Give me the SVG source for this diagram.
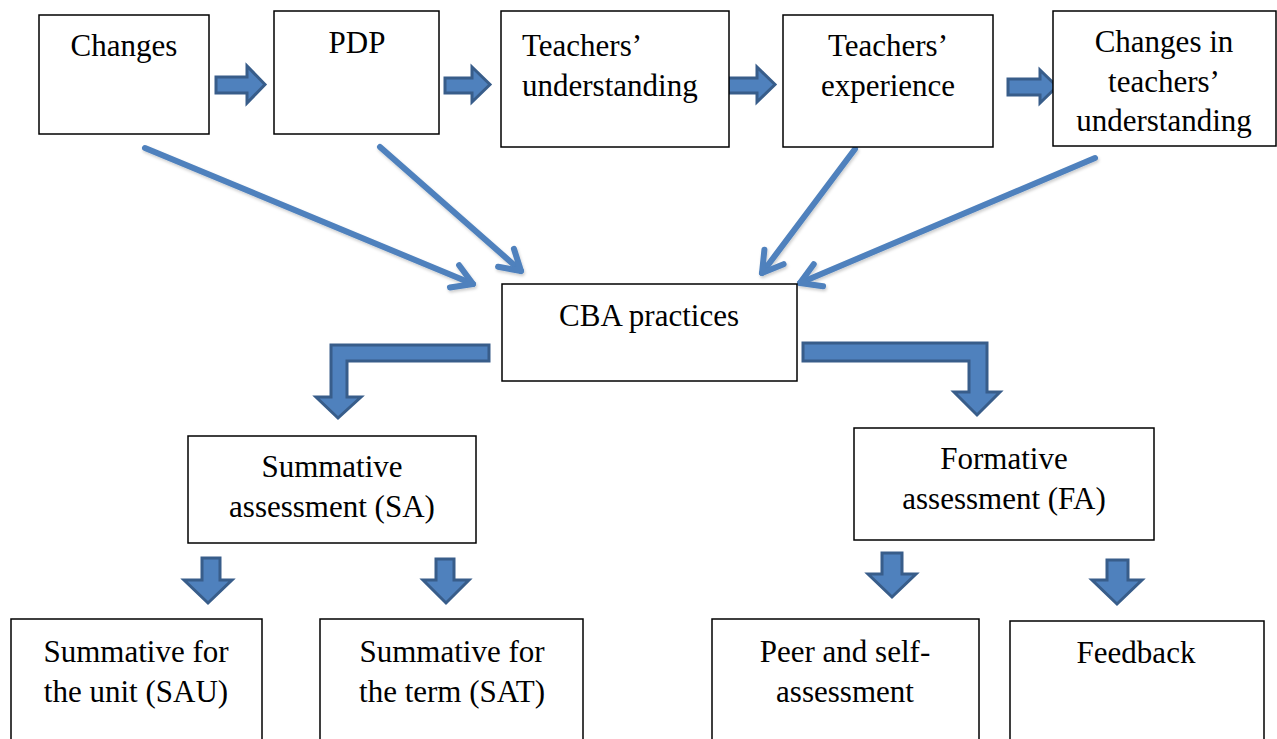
<svg xmlns="http://www.w3.org/2000/svg" width="1277" height="739" viewBox="0 0 1277 739">
<defs>
<style>
.box{fill:#fff;stroke:#000;stroke-width:1.5}
.t{font-family:"Liberation Serif","Times New Roman",serif;font-size:31px;fill:#000;text-anchor:middle}
.ts{font-family:"Liberation Serif","Times New Roman",serif;font-size:31px;fill:#000;text-anchor:start}
.blk{fill:#4F81BD;stroke:#385D8A;stroke-width:3;stroke-linejoin:miter}
.ln{fill:none;stroke:#4F81BD;stroke-width:6;stroke-linecap:round;filter:url(#sh)}
</style>
<filter id="sh" x="-20%" y="-20%" width="140%" height="140%">
<feDropShadow dx="1" dy="2" stdDeviation="1.5" flood-color="#000" flood-opacity="0.2"/>
</filter>
<marker id="chev" markerUnits="userSpaceOnUse" viewBox="-30 -20 40 40" refX="0" refY="0" markerWidth="40" markerHeight="40" orient="auto" overflow="visible">
<path d="M-20,-12 L0,0 L-20,12" fill="none" stroke="#4F81BD" stroke-width="6" stroke-linecap="round" stroke-linejoin="round"/>
</marker>
</defs>

<g id="connectors">
<path class="blk" d="M216,77 L247,77 L247,66 L265,84.5 L247,103 L247,93 L216,93 Z"/>
<path class="blk" d="M445,78 L472,78 L472,67 L490,84.5 L472,102 L472,93 L445,93 Z"/>
<path class="blk" d="M728,78 L757,78 L757,67 L775,84.5 L757,102 L757,93 L728,93 Z"/>
<path class="blk" d="M1008,79 L1040,79 L1040,70 L1057,86.5 L1040,103 L1040,95 L1008,95 Z"/>
<line class="ln" x1="145" y1="148" x2="473" y2="284" marker-end="url(#chev)"/>
<line class="ln" x1="380" y1="147" x2="521" y2="271" marker-end="url(#chev)"/>
<line class="ln" x1="623" y1="158" x2="623" y2="258" marker-end="url(#chev)"/>
<line class="ln" x1="855" y1="149" x2="762" y2="273" marker-end="url(#chev)"/>
<line class="ln" x1="1095" y1="158" x2="800" y2="283" marker-end="url(#chev)"/>
<path class="blk" d="M489,345 L331,345 L331,397 L316,397 L338,418 L361,397 L347,397 L347,361 L489,361 Z"/>
<path class="blk" d="M803,343 L987,343 L987,392 L1000,392 L977,415 L954,392 L969,392 L969,361 L803,361 Z"/>
<path class="blk" d="M202,558 L220,558 L220,580 L232,580 L208,603 L184,580 L202,580 Z"/>
<path class="blk" d="M436,559 L454,559 L454,580 L469,580 L446,603 L423,580 L436,580 Z"/>
<path class="blk" d="M882,553 L902,553 L902,574 L916,574 L892,597 L868,574 L882,574 Z"/>
<path class="blk" d="M1107,560 L1128,560 L1128,580 L1142,580 L1117,604 L1092,580 L1107,580 Z"/>
</g>

<g id="n-changes">
<rect class="box" x="39" y="15" width="170" height="119"/>
<text class="t" x="124" y="56">Changes</text>
</g>
<g id="n-pdp">
<rect class="box" x="274" y="11" width="165" height="123"/>
<text class="t" x="357" y="53">PDP</text>
</g>
<g id="n-understanding">
<rect class="box" x="501" y="11" width="228" height="136"/>
<text class="ts" x="522" y="56">Teachers’</text>
<text class="ts" x="522" y="96">understanding</text>
</g>
<g id="n-experience">
<rect class="box" x="783" y="15" width="210" height="132"/>
<text class="t" x="888" y="56">Teachers’</text>
<text class="t" x="888" y="96">experience</text>
</g>
<g id="n-changes-understanding">
<rect class="box" x="1053" y="11" width="223" height="135"/>
<text class="t" x="1164" y="52">Changes in</text>
<text class="t" x="1164" y="92">teachers’</text>
<text class="t" x="1164" y="131">understanding</text>
</g>
<g id="n-cba">
<rect class="box" x="502" y="284" width="295" height="97"/>
<text class="t" x="649" y="326">CBA practices</text>
</g>
<g id="n-sa">
<rect class="box" x="188" y="436" width="288" height="107"/>
<text class="t" x="332" y="477">Summative</text>
<text class="t" x="332" y="517">assessment (SA)</text>
</g>
<g id="n-fa">
<rect class="box" x="854" y="428" width="300" height="112"/>
<text class="t" x="1004" y="469">Formative</text>
<text class="t" x="1004" y="509">assessment (FA)</text>
</g>
<g id="n-sau">
<rect class="box" x="11" y="619" width="251" height="130"/>
<text class="t" x="136" y="662">Summative for</text>
<text class="t" x="136" y="702">the unit (SAU)</text>
</g>
<g id="n-sat">
<rect class="box" x="320" y="619" width="263" height="130"/>
<text class="t" x="452" y="662">Summative for</text>
<text class="t" x="452" y="702">the term (SAT)</text>
</g>
<g id="n-peer">
<rect class="box" x="712" y="619" width="267" height="130"/>
<text class="t" x="845" y="662">Peer and self-</text>
<text class="t" x="845" y="702">assessment</text>
</g>
<g id="n-feedback">
<rect class="box" x="1010" y="621" width="254" height="130"/>
<text class="t" x="1136" y="663">Feedback</text>
</g>
</svg>
